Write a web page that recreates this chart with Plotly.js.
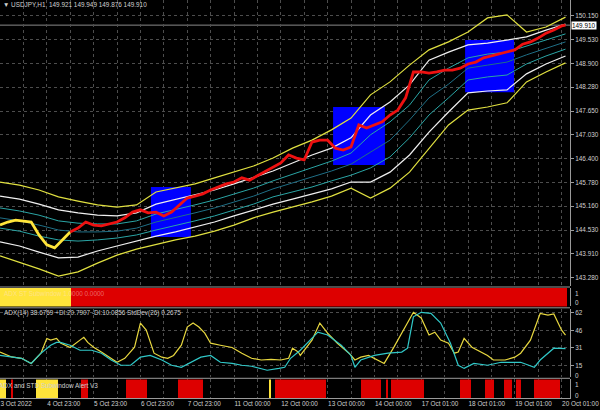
<!DOCTYPE html>
<html><head><meta charset="utf-8">
<script src="https://cdn.plot.ly/plotly-3.0.1.min.js"></script>
<style>html,body{margin:0;padding:0;background:#000;}#chart{width:600px;height:410px;}</style>
</head><body><div id="chart"></div>
<script>
// ---- axis ticks ----
const timeTickBars = [0,12,24,36,48,60,72,84,96,108,120,132,144,156,168,180,192,204,216,228,240,252,264,276,288];
const timeTickLabels = ["3 Oct 2022","","4 Oct 23:00","","5 Oct 23:00","","6 Oct 23:00","","7 Oct 23:00","","11 Oct 00:00","","12 Oct 00:00","","13 Oct 00:00","","14 Oct 00:00","","17 Oct 01:00","","18 Oct 01:00","","19 Oct 01:00","","20 Oct 01:00"];
const priceTicks = [143.28,143.91,144.53,145.16,145.78,146.40,147.03,147.65,148.28,148.90,149.53,150.15];
const adxTicks = [15,31,46,62];

// ---- price (close, H1 bars) ----
const priceBars = [0,4,8,12,16,20,24,28,32,36,40,44,48,52,56,60,64,68,72,76,80,84,88,92,96,100,104,108,112,116,120,124,128,132,136,140,144,148,152,156,160,164,168,172,176,180,184,188,192,196,200,204,208,212,216,220,224,228,232,236,240,244,248,252,256,260,264,268,272,276,280,284,288,290];
const priceClose = [144.66,144.74,144.79,144.77,144.74,144.40,144.14,144.06,144.27,144.48,144.58,144.74,144.66,144.64,144.69,144.74,144.85,145.00,145.06,144.98,145.00,144.90,145.00,145.19,145.37,145.42,145.48,145.58,145.66,145.74,145.79,145.90,145.84,145.95,146.05,146.16,146.29,146.50,146.42,146.37,146.84,146.89,146.89,146.68,146.63,146.71,147.29,147.21,147.29,147.37,147.55,147.68,148.00,148.68,148.68,148.65,148.68,148.73,148.73,148.78,148.89,148.94,149.05,149.10,149.15,149.20,149.26,149.41,149.47,149.57,149.70,149.78,149.89,149.91];

// ---- bands ----
const bandBars = [0,10,20,30,40,50,60,70,80,90,100,110,120,130,140,150,160,170,180,190,200,210,220,230,240,250,260,270,280,290];
const bandUpper3 = [145.79,145.71,145.58,145.40,145.29,145.19,145.13,145.19,145.53,145.63,145.74,145.90,146.05,146.21,146.42,146.68,146.89,147.16,147.47,148.08,148.42,148.86,149.26,149.47,149.73,150.10,150.18,149.73,149.86,150.12];
const bandUpper2 = [145.42,145.34,145.21,145.06,144.98,144.92,144.90,144.98,145.21,145.34,145.45,145.58,145.74,145.90,146.08,146.29,146.50,146.68,146.95,147.55,147.89,148.34,148.99,149.20,149.39,149.44,149.52,149.60,149.78,149.94];
const bandUpper1 = [145.11,145.03,144.92,144.77,144.71,144.69,144.69,144.77,144.95,145.06,145.19,145.32,145.48,145.63,145.82,146.00,146.18,146.34,146.55,147.03,147.37,147.81,148.47,148.78,149.05,149.15,149.20,149.36,149.52,149.68];
const bandMid    = [144.85,144.77,144.66,144.53,144.48,144.48,144.50,144.58,144.74,144.85,144.98,145.11,145.27,145.42,145.61,145.76,145.92,146.08,146.26,146.58,146.89,147.42,148.00,148.36,148.78,148.86,148.94,149.13,149.31,149.47];
const bandLower1 = [144.58,144.50,144.37,144.27,144.24,144.27,144.32,144.40,144.53,144.64,144.77,144.90,145.06,145.21,145.40,145.53,145.66,145.82,145.97,146.16,146.45,146.95,147.55,148.00,148.47,148.55,148.60,148.89,149.10,149.28];
const bandLower2 = [144.22,144.11,143.95,143.80,143.82,143.98,144.11,144.24,144.37,144.48,144.61,144.74,144.90,145.06,145.21,145.34,145.48,145.61,145.79,145.79,146.05,146.50,147.10,147.63,148.13,148.18,148.21,148.63,148.89,149.10];
const bandLower3 = [143.85,143.69,143.51,143.32,143.43,143.66,143.87,144.03,144.16,144.27,144.37,144.50,144.66,144.85,145.00,145.13,145.27,145.42,145.63,145.37,145.63,146.05,146.68,147.29,147.68,147.76,147.87,148.42,148.68,148.92];

// ---- boxes (bar range, price range) ----
const boxStart = [77.4,170.8,238.5];
const boxEnd   = [97.9,197.4,263.6];
const boxLow   = [144.35,146.24,148.15];
const boxHigh  = [145.66,147.76,149.52];

// ---- signal subwindow ----
const signalStart = [0,36.4];
const signalEnd   = [36.4,291.0];
const signalState = ["up","down"];

// ---- ADX subwindow ----
const adxBars = [0,6,11,16,21,24,26,29,31,36,41,43,45,48,52,57,60,64,69,72,75,79,83,86,89,93,96,99,102,105,108,113,119,124,129,134,139,144,148,150,153,154,160,164,168,173,179,182,185,189,192,197,202,207,212,216,220,223,226,230,233,235,238,242,247,250,253,259,264,267,272,277,281,284,288,290];
const adxLine = [27,22.7,21.5,17,26,39,37.5,39,35,31,37.5,40,35.5,31.3,27,21.5,18,21.5,31.3,52.5,46.3,26,22.5,21.5,24,33,49,52.5,49,43.6,34.8,33,31,26,21.5,20,20.6,20,21.5,30.4,27,24,37.5,52.5,43.6,34.8,26,20,22.5,24,21.5,17,31.3,46.3,62,57,42,44.5,37.5,34.8,26,27,39,31.3,27,24,20,20,22.5,26,37.5,61,59.6,60.5,46.3,42];
const sdBars = [0,11,16,21,26,29,31,36,41,47,52,57,62,67,72,77,83,88,93,98,103,108,113,119,124,129,137,143,146,149,153,154,163,168,175,180,182,185,192,199,206,209,212,216,221,226,231,235,238,243,250,257,267,274,277,284,290];
const sdLine = [24,21.5,17,26,33,35.5,35.5,33,28.6,28.6,26,20,15.4,15.4,22.5,24,20,15.4,13.6,18,22.5,24,18,17,15.4,14.5,11,12.6,13.6,21.5,27,28.6,44.5,42,33,24,13.6,20,24,26,27,30.4,58,62,61,52.5,34.8,15.4,12.6,17,15.4,18,18,13.6,20,30.4,30];

// ---- alert subwindow ----
const alertStart = [0,5.6,18.5,41.5,64.6,91.3,138,141,185.1,198,200.5,235.9,248.7,258.5,264.6,273.8];
const alertEnd   = [3.1,6.7,29.7,45.1,75.4,104.1,139,167.2,195.4,199,217.4,241.5,253.3,262.6,267.2,287.2];
const alertState = ["up","down","up","down","down","down","up","down","down","down","down","down","down","down","down","down"];

const lastPrice = 149.910;

const FONT = "Liberation Sans, Arial, sans-serif";
const FS = 6.4;
const TXT = "#d0d0d0";
const GRID = "#4d4d4d";
const stateColor = s => s === "up" ? "#ffe43a" : "#dd0000";

function segBars(starts, ends, states, yaxis){
  return {
    type: "bar", yaxis: yaxis,
    x: starts.map((s,i)=>(s+ends[i])/2),
    width: starts.map((s,i)=>ends[i]-s),
    y: starts.map(()=>1),
    marker: {color: states.map(stateColor), line: {width: 0}},
    hoverinfo: "skip", showlegend: false
  };
}
function line(x, y, color, width, yaxis){
  return {type:"scatter", mode:"lines", x:x, y:y, yaxis:yaxis||"y",
    line:{color:color, width:width||1}, hoverinfo:"skip", showlegend:false};
}

const splitBar = signalEnd[0];
const upIdx = priceBars.map((b,i)=>i).filter(i=>priceBars[i] <= splitBar);
const dnIdx = priceBars.map((b,i)=>i).filter(i=>priceBars[i] >= splitBar - 4);

const traces = [
  line(bandBars, bandUpper3, "#e0e040", 1.2),
  line(bandBars, bandUpper2, "#f0f0f0", 1.2),
  line(bandBars, bandUpper1, "#2aa5a5", 1),
  line(bandBars, bandMid, "#1f6f86", 1),
  line(bandBars, bandLower1, "#2aa5a5", 1),
  line(bandBars, bandLower2, "#f0f0f0", 1.2),
  line(bandBars, bandLower3, "#e0e040", 1.2),
  line(upIdx.map(i=>priceBars[i]), upIdx.map(i=>priceClose[i]), "#ffe43a", 2.8),
  line(dnIdx.map(i=>priceBars[i]), dnIdx.map(i=>priceClose[i]), "#ee1111", 2.8),
  segBars(signalStart, signalEnd, signalState, "y2"),
  line(adxBars, adxLine, "#e8d840", 1.2, "y3"),
  line(sdBars, sdLine, "#30c8c8", 1.2, "y3"),
  segBars(alertStart, alertEnd, alertState, "y4")
];

const shapes = boxStart.map((s,i)=>({type:"rect", xref:"x", yref:"y", x0:s, x1:boxEnd[i], y0:boxLow[i], y1:boxHigh[i],
  fillcolor:"#0000ff", line:{width:0}, layer:"between"}));
shapes.push({type:"line", xref:"paper", yref:"y", x0:0, x1:1, y0:lastPrice, y1:lastPrice, line:{color:"#8a8a8a", width:1}, layer:"between"});
[0.2789, 0.2266, 0.0495].forEach(f=>shapes.push({type:"line", xref:"paper", yref:"paper", x0:0, x1:1, y0:f, y1:f, line:{color:"#9a9a9a", width:1}}));

const ann = (text, x, y, opts) => Object.assign({text:text, x:x, y:y, xref:"paper", yref:"paper", showarrow:false,
  xanchor:"left", yanchor:"middle", font:{family:FONT, size:FS, color:TXT}}, opts||{});

const annotations = [
  ann("\u25BC USDJPY,H1  149.921 149.949 149.876 149.910", 0.002, 0.988),
  ann(lastPrice.toFixed(3), 1, lastPrice, {yref:"y", xshift:1, bgcolor:"#ffffff", font:{family:FONT,size:FS,color:"#000"}, borderpad:0}),
  ann("ADX ST Subwindow 1.0000 0.0000", 0.003, 0.2625, {font:{family:FONT,size:FS,color:"rgba(255,225,225,0.45)"}}),
  ann("ADX(14) 38.6769 +DI:20.7907 -DI:10.0856 StdDev(26) 0.2675", 0.003, 0.2135),
  ann("ADX and STD Subwindow Alert V3", 0, 0.032, {xshift:-3}),
  ann("1", 1, 0.2638, {xshift:3}),
  ann("0", 1, 0.2387, {xshift:3}),
  ann("0", 1, 0.057, {xshift:3}),
  ann("1", 1, 0.0334, {xshift:3}),
  ann("0", 1, 0.0075, {xshift:3})
];

const baseY = {side:"right", showline:true, linecolor:"#9a9a9a", linewidth:1, zeroline:false, fixedrange:true,
  tickfont:{family:FONT, size:FS, color:TXT}, anchor:"x"};

const layout = {
  width:600, height:410, paper_bgcolor:"#000", plot_bgcolor:"#000",
  margin:{l:0, r:30, t:0, b:12}, showlegend:false, bargap:0, barmode:"overlay",
  font:{family:FONT, size:FS, color:TXT},
  xaxis:{range:[0,292.3], tickmode:"array", tickvals:timeTickBars, ticktext:timeTickLabels, tickangle:0,
    ticklabelposition:"outside right", ticklabeloverflow:"allow", ticklabelstandoff:-1, ticks:"", showgrid:true, gridcolor:GRID, griddash:"dot",
    showline:true, linecolor:"#9a9a9a", zeroline:false, anchor:"y4", tickfont:{family:FONT,size:FS,color:TXT}},
  yaxis:Object.assign({}, baseY, {domain:[0.2814,1], range:[143.06,150.57], tickmode:"array", tickvals:priceTicks,
    tickformat:".3f", showgrid:true, gridcolor:GRID, griddash:"dot", ticks:"outside", ticklen:3, tickcolor:"#9a9a9a"}),
  yaxis2:Object.assign({}, baseY, {domain:[0.2299,0.2764], range:[0,1], showticklabels:false, showgrid:false}),
  yaxis3:Object.assign({}, baseY, {domain:[0.0528,0.2236], range:[5.05,64.9], tickmode:"array", tickvals:adxTicks,
    showgrid:true, gridcolor:GRID, griddash:"dot", ticks:"outside", ticklen:3, tickcolor:"#9a9a9a"}),
  yaxis4:Object.assign({}, baseY, {domain:[0,0.0465], range:[0,1], showticklabels:false, showgrid:false}),
  shapes:shapes, annotations:annotations
};

Plotly.newPlot("chart", traces, layout, {staticPlot:true, displayModeBar:false});
</script></body></html>
